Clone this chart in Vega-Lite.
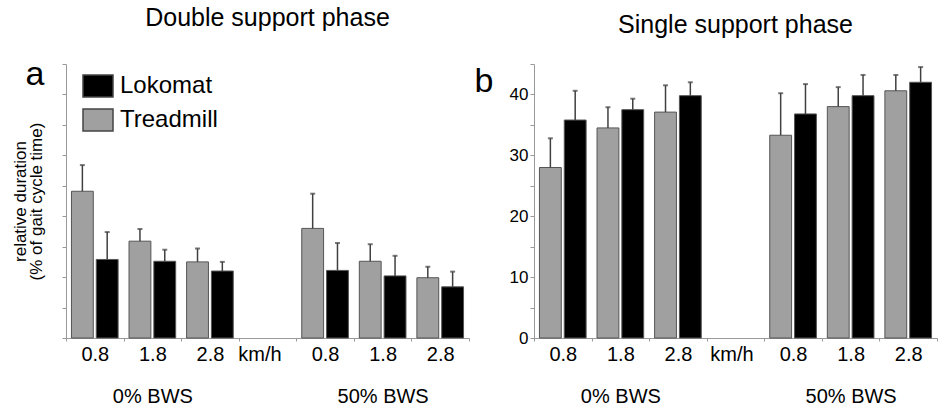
{
  "$schema": "https://vega.github.io/schema/vega-lite/v6.json",
  "padding": {"left": 11, "top": 6, "right": 0, "bottom": 0},
  "spacing": 4,
  "config": {
    "font": "Liberation Sans",
    "view": {"stroke": null},
    "axis": {"domainColor": "#999999", "tickColor": "#999999", "labelColor": "#000000", "titleColor": "#000000", "grid": false, "titleFontWeight": "normal"},
    "title": {"fontWeight": "normal", "color": "#000000"}
  },
  "datasets": {
    "double": [
      {"slot": "0.8 (0%)", "device": "Treadmill", "mean": 24.1, "upper": 28.4},
      {"slot": "0.8 (0%)", "device": "Lokomat", "mean": 12.9, "upper": 17.4},
      {"slot": "1.8 (0%)", "device": "Treadmill", "mean": 15.9, "upper": 17.9},
      {"slot": "1.8 (0%)", "device": "Lokomat", "mean": 12.6, "upper": 14.5},
      {"slot": "2.8 (0%)", "device": "Treadmill", "mean": 12.5, "upper": 14.7},
      {"slot": "2.8 (0%)", "device": "Lokomat", "mean": 11.0, "upper": 12.5},
      {"slot": "0.8 (50%)", "device": "Treadmill", "mean": 18.0, "upper": 23.7},
      {"slot": "0.8 (50%)", "device": "Lokomat", "mean": 11.1, "upper": 15.6},
      {"slot": "1.8 (50%)", "device": "Treadmill", "mean": 12.6, "upper": 15.4},
      {"slot": "1.8 (50%)", "device": "Lokomat", "mean": 10.2, "upper": 13.5},
      {"slot": "2.8 (50%)", "device": "Treadmill", "mean": 9.9, "upper": 11.7},
      {"slot": "2.8 (50%)", "device": "Lokomat", "mean": 8.4, "upper": 10.9}
    ],
    "single": [
      {"slot": "0.8 (0%)", "device": "Treadmill", "mean": 28.0, "upper": 32.8},
      {"slot": "0.8 (0%)", "device": "Lokomat", "mean": 35.8, "upper": 40.6},
      {"slot": "1.8 (0%)", "device": "Treadmill", "mean": 34.5, "upper": 37.9},
      {"slot": "1.8 (0%)", "device": "Lokomat", "mean": 37.5, "upper": 39.3},
      {"slot": "2.8 (0%)", "device": "Treadmill", "mean": 37.1, "upper": 41.5},
      {"slot": "2.8 (0%)", "device": "Lokomat", "mean": 39.8, "upper": 42.0},
      {"slot": "0.8 (50%)", "device": "Treadmill", "mean": 33.3, "upper": 40.2},
      {"slot": "0.8 (50%)", "device": "Lokomat", "mean": 36.8, "upper": 41.7},
      {"slot": "1.8 (50%)", "device": "Treadmill", "mean": 38.0, "upper": 41.2},
      {"slot": "1.8 (50%)", "device": "Lokomat", "mean": 39.8, "upper": 43.2},
      {"slot": "2.8 (50%)", "device": "Treadmill", "mean": 40.6, "upper": 43.2},
      {"slot": "2.8 (50%)", "device": "Lokomat", "mean": 42.0, "upper": 44.5}
    ]
  },
  "resolve": {"scale": {"x": "independent", "y": "independent", "color": "independent", "xOffset": "independent"}, "legend": {"color": "independent"}, "axis": {"x": "independent", "y": "independent"}},
  "hconcat": [
    {
      "data": {"name": "double"},
      "width": 403,
      "height": 274,
      "title": {"text": "Double support phase", "fontSize": 25, "offset": 26, "anchor": "middle", "frame": "group"},
      "encoding": {
        "x": {
          "field": "slot", "type": "nominal",
          "scale": {"domain": ["0.8 (0%)", "1.8 (0%)", "2.8 (0%)", "km/h", "0.8 (50%)", "1.8 (50%)", "2.8 (50%)"], "paddingInner": 0, "paddingOuter": 0},
          "axis": {
            "labelExpr": "!isValid(datum.value) ? '' : datum.value === 'km/h' ? 'km/h' : datum.value === '1.8 (0%)' ? ['1.8', '0% BWS'] : datum.value === '1.8 (50%)' ? ['1.8', '50% BWS'] : substring(datum.value, 0, 3)",
            "labelFontSize": 20, "labelLineHeight": 42, "labelAngle": 0, "labelPadding": 3, "tickSize": 3, "tickBand": "extent",
            "labelOffset": {"expr": "datum.value === 'km/h' ? -8 : 0"},
            "title": "a", "titleFontSize": 34, "titleAngle": 0, "titleAlign": "left", "titleBaseline": "alphabetic", "titleX": -41, "titleY": -254
          }
        },
        "xOffset": {"field": "device", "type": "nominal", "scale": {"domain": ["Treadmill", "Lokomat"], "paddingInner": 0.12, "paddingOuter": 0.22}},
        "y": {
          "field": "mean", "type": "quantitative",
          "scale": {"domain": [0, 45], "nice": false},
          "axis": {"values": [0, 5, 10, 15, 20, 25, 30, 35, 40, 45], "labels": false, "tickSize": 4,
            "title": ["relative duration", "(% of gait cycle time)"], "titleFontSize": 17, "titleLineHeight": 16, "titlePadding": 16}
        }
      },
      "layer": [
        {
          "mark": {"type": "bar", "stroke": "#555555", "strokeWidth": 1},
          "encoding": {
            "color": {"field": "device", "type": "nominal",
              "scale": {"domain": ["Lokomat", "Treadmill"], "range": ["#000000", "#a0a0a0"]},
              "legend": {"orient": "none", "legendX": 16, "legendY": 6, "title": null, "padding": 0,
                "labelFontSize": 24, "labelOffset": 6, "symbolType": "M-1,-0.733H1V0.733H-1Z", "symbolSize": 900,
                "symbolStrokeColor": "#444444", "symbolStrokeWidth": 1.5, "rowPadding": 4, "symbolOpacity": 1}}
          }
        },
        {
          "mark": {"type": "rule", "color": "#404040", "strokeWidth": 1.5},
          "encoding": {"y2": {"field": "upper"}}
        },
        {
          "mark": {"type": "tick", "color": "#404040", "thickness": 2, "size": 5},
          "encoding": {"y": {"field": "upper", "type": "quantitative"}}
        }
      ]
    },
    {
      "data": {"name": "single"},
      "width": 403,
      "height": 274,
      "title": {"text": "Single support phase", "fontSize": 25, "offset": 26, "anchor": "middle", "frame": "group"},
      "encoding": {
        "x": {
          "field": "slot", "type": "nominal",
          "scale": {"domain": ["0.8 (0%)", "1.8 (0%)", "2.8 (0%)", "km/h", "0.8 (50%)", "1.8 (50%)", "2.8 (50%)"], "paddingInner": 0, "paddingOuter": 0},
          "axis": {
            "labelExpr": "!isValid(datum.value) ? '' : datum.value === 'km/h' ? 'km/h' : datum.value === '1.8 (0%)' ? ['1.8', '0% BWS'] : datum.value === '1.8 (50%)' ? ['1.8', '50% BWS'] : substring(datum.value, 0, 3)",
            "labelFontSize": 20, "labelLineHeight": 42, "labelAngle": 0, "labelPadding": 3, "tickSize": 3, "tickBand": "extent",
            "labelOffset": {"expr": "datum.value === 'km/h' ? -4 : 0"},
            "title": "b", "titleFontSize": 34, "titleAngle": 0, "titleAlign": "left", "titleBaseline": "alphabetic", "titleX": -60, "titleY": -247
          }
        },
        "xOffset": {"field": "device", "type": "nominal", "scale": {"domain": ["Treadmill", "Lokomat"], "paddingInner": 0.12, "paddingOuter": 0.22}},
        "y": {
          "field": "mean", "type": "quantitative",
          "scale": {"domain": [0, 45], "nice": false},
          "axis": {"values": [0, 5, 10, 15, 20, 25, 30, 35, 40, 45], "labelExpr": "datum.value % 10 === 0 && datum.value < 45 ? datum.label : ''",
            "labelFontSize": 17, "tickSize": 4, "labelPadding": 2, "title": null}
        }
      },
      "layer": [
        {
          "mark": {"type": "bar", "stroke": "#555555", "strokeWidth": 1},
          "encoding": {
            "color": {"field": "device", "type": "nominal",
              "scale": {"domain": ["Lokomat", "Treadmill"], "range": ["#000000", "#a0a0a0"]},
              "legend": null}
          }
        },
        {
          "mark": {"type": "rule", "color": "#404040", "strokeWidth": 1.5},
          "encoding": {"y2": {"field": "upper"}}
        },
        {
          "mark": {"type": "tick", "color": "#404040", "thickness": 2, "size": 5},
          "encoding": {"y": {"field": "upper", "type": "quantitative"}}
        }
      ]
    }
  ]
}
